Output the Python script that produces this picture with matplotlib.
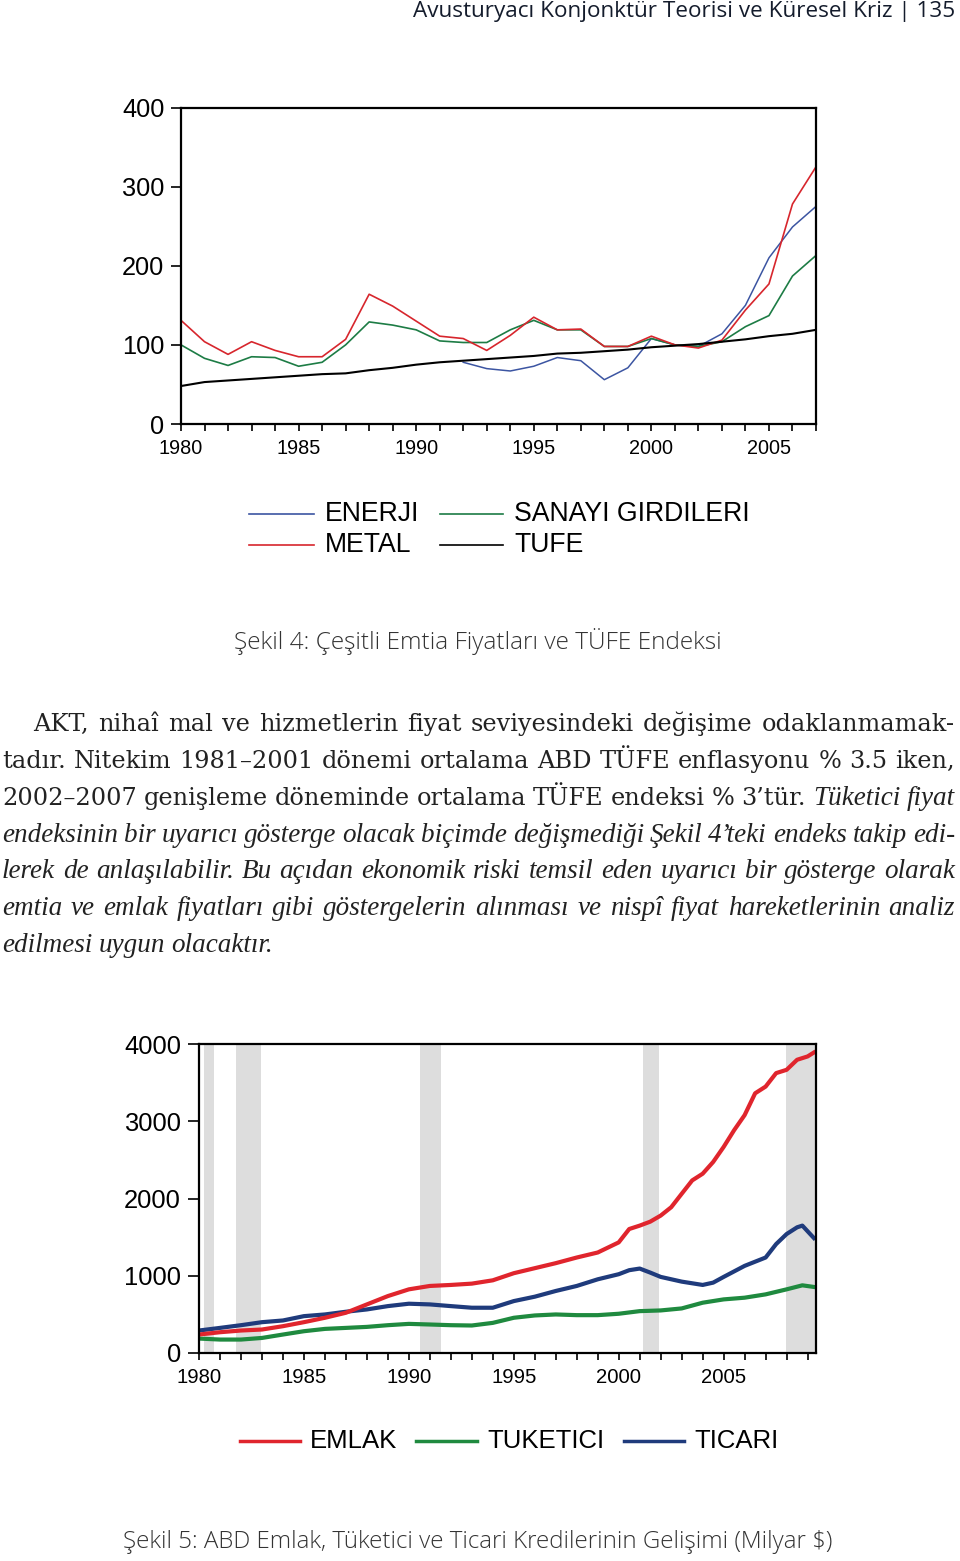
import matplotlib
matplotlib.use("Agg")
import matplotlib.pyplot as plt
from matplotlib.lines import Line2D

W, H = 960, 1561

# ---- Sekil 4: emtia fiyatlari ve TUFE (yillik) ----
years4 = list(range(1980, 2008))
metal = [131, 104, 88, 104, 93, 85, 85, 107, 164, 149, 130, 111, 108, 93,
         112, 135, 119, 120, 98, 98, 111, 100, 96, 106, 144, 177, 278, 325]
sanayi = [100, 83, 74, 85, 84, 73, 78, 100, 129, 125, 119, 105, 103, 103,
          119, 131, 119, 119, 98, 98, 108, 100, 98, 104, 123, 137, 187, 213]
enerji_years = list(range(1992, 2008))
enerji = [78, 70, 67, 73, 84, 80, 56, 71, 108, 100, 98, 114, 150, 210, 249, 275]
tufe = [48, 53, 55, 57, 59, 61, 63, 64, 68, 71, 75, 78, 80, 82,
        84, 86, 89, 90, 92, 94, 97, 99, 101, 104, 107, 111, 114, 119]

# ---- Sekil 5: kredi hacimleri (milyar $) ----
t_emlak = [1980, 1981, 1982, 1983, 1984, 1985, 1986, 1987, 1988, 1989, 1990,
           1991, 1992, 1993, 1994, 1995, 1996, 1997, 1998, 1999, 2000, 2000.5,
           2001, 2001.5, 2002, 2002.5, 2003, 2003.5, 2004, 2004.5, 2005,
           2005.5, 2006, 2006.5, 2007, 2007.5, 2008, 2008.5, 2009, 2009.3]
emlak = [239, 269, 291, 304, 347, 399, 456, 521, 629, 737, 824, 868, 881, 898,
         941, 1033, 1098, 1163, 1236, 1301, 1432, 1605, 1649, 1700, 1779, 1887,
         2061, 2234, 2321, 2473, 2668, 2885, 3080, 3362, 3449, 3623, 3666,
         3796, 3839, 3890]
t_ticari = [1980, 1981, 1982, 1983, 1984, 1985, 1986, 1987, 1988, 1989, 1990,
            1991, 1992, 1993, 1994, 1995, 1996, 1997, 1998, 1999, 2000, 2000.5,
            2001, 2001.5, 2002, 2003, 2004, 2004.5, 2005, 2006, 2007, 2007.5,
            2008, 2008.5, 2008.75, 2009.3]
ticari = [291, 325, 360, 399, 421, 477, 499, 534, 564, 607, 638, 629, 607, 586,
          586, 672, 729, 803, 868, 954, 1020, 1072, 1093, 1041, 985, 924, 881,
          911, 985, 1128, 1236, 1410, 1540, 1627, 1649, 1488]
t_tuketici = [1980, 1981, 1982, 1983, 1984, 1985, 1986, 1987, 1988, 1989,
              1990, 1991, 1992, 1993, 1994, 1995, 1996, 1997, 1998, 1999,
              2000, 2001, 2002, 2003, 2004, 2005, 2006, 2007, 2008, 2008.75,
              2009.3]
tuketici = [187, 174, 174, 195, 239, 282, 312, 325, 338, 360, 377, 369, 360,
            356, 390, 456, 486, 499, 490, 490, 508, 542, 551, 577, 651, 694,
            716, 759, 824, 876, 855]
# resesyon donemleri (gri bantlar)
recessions = [(1980.24, 1980.72), (1981.77, 1982.96), (1990.54, 1991.55),
              (2001.18, 2001.9), (2007.96, 2009.4)]

header = "Avusturyacı Konjonktür Teorisi ve Küresel Kriz | 135"
caption4 = "Şekil 4: Çeşitli Emtia Fiyatları ve TÜFE Endeksi"
caption5 = "Şekil 5: ABD Emlak, Tüketici ve Ticari Kredilerinin Gelişimi (Milyar $)"

# (metin, italik mi) parcalari, satir satir
body = [
    [("AKT, nihaî mal ve hizmetlerin fiyat seviyesindeki değişime odaklanmamak-", False)],
    [("tadır. Nitekim 1981–2001 dönemi ortalama ABD TÜFE enflasyonu % 3.5 iken,", False)],
    [("2002–2007 genişleme döneminde ortalama TÜFE endeksi % 3’tür.", False),
     ("Tüketici fiyat", True)],
    [("endeksinin bir uyarıcı gösterge olacak biçimde değişmediği Şekil 4’teki endeks takip edi-", True)],
    [("lerek de anlaşılabilir. Bu açıdan ekonomik riski temsil eden uyarıcı bir gösterge olarak", True)],
    [("emtia ve emlak fiyatları gibi göstergelerin alınması ve nispî fiyat hareketlerinin analiz", True)],
    [("edilmesi uygun olacaktır.", True)],
]


def fx(px):
    return px / W


def fy(py):
    return 1 - py / H


def style_axes(ax, xlab_size, ylab_size, ylen):
    for s in ax.spines.values():
        s.set_linewidth(1.6)
    ax.tick_params(which="both", direction="out", width=1.2, colors="black")
    ax.tick_params(axis="x", which="both", length=5, pad=6, labelsize=xlab_size)
    ax.tick_params(axis="y", length=ylen, pad=5, labelsize=ylab_size)
    for lab in ax.get_xticklabels() + ax.get_yticklabels():
        lab.set_fontfamily("Liberation Sans")


fig = plt.figure(figsize=(W / 100, H / 100), dpi=100)

fig.text(fx(955), fy(12), header, ha="right", va="center", fontsize=16.2,
         family="Open Sans", fontweight="medium", color="#141c2c")

# ---------- Chart 1 ----------
ax1 = fig.add_axes([fx(181), fy(424), fx(816) - fx(181), (424 - 107.5) / H])
ax1.plot(enerji_years, enerji, color="#3c55a2", lw=1.1)
ax1.plot(years4, sanayi, color="#1d7c45", lw=1.2)
ax1.plot(years4, metal, color="#d7262d", lw=1.2)
ax1.plot(years4, tufe, color="black", lw=1.5)
ax1.set_xlim(1980, 2007)
ax1.set_ylim(0, 400)
ax1.set_xticks(range(1980, 2008, 5))
ax1.set_xticks(range(1980, 2008), minor=True)
ax1.set_yticks([0, 100, 200, 300, 400])
style_axes(ax1, 14.3, 18.3, 7)

leg1 = [(249, 314, 514, "#3c55a2", "ENERJI"), (249, 314, 545, "#d7262d", "METAL"),
        (440, 503, 514, "#1d7c45", "SANAYI GIRDILERI"), (440, 503, 545, "black", "TUFE")]
for x0, x1, y, c, lab in leg1:
    fig.add_artist(Line2D([fx(x0), fx(x1)], [fy(y), fy(y)], color=c, lw=1.2))
    fig.text(fx(x1 + 11), fy(y), lab, ha="left", va="center", fontsize=19.2,
             family="Liberation Sans")

fig.text(fx(478), fy(641), caption4, ha="center", va="center", fontsize=17.6,
         family="Open Sans", fontweight="light", color="#333333")

# ---------- body text (iki yana yasli) ----------
renderer = fig.canvas.get_renderer()
line_y = [731, 768, 805, 842, 878, 915, 952]
for i, parts in enumerate(body):
    words = []
    for txt, ital in parts:
        for w in txt.split(" "):
            words.append((w, ital))
    objs = []
    for w, ital in words:
        if ital:
            t = fig.text(0, fy(line_y[i]), w, fontsize=19.5, family="Liberation Serif",
                         style="italic", va="baseline", color="#222222")
        else:
            t = fig.text(0, fy(line_y[i]), w, fontsize=17.3, family="DejaVu Serif",
                         va="baseline", color="#222222")
        objs.append(t)
    widths = [o.get_window_extent(renderer).width for o in objs]
    x_left = 33 if i == 0 else 2
    x_right = 955
    if i == len(body) - 1:
        gap = 6
    else:
        gap = (x_right - x_left - sum(widths)) / (len(objs) - 1)
    x = x_left
    for o, wd in zip(objs, widths):
        o.set_x(fx(x))
        x += wd + gap

# ---------- Chart 2 ----------
ax2 = fig.add_axes([fx(199), fy(1353), fx(816) - fx(199), (1353 - 1044) / H])
for a, b in recessions:
    ax2.axvspan(a, b, color="#dddddd", lw=0, zorder=0)
ax2.plot(t_tuketici, tuketici, color="#1f8a3f", lw=3)
ax2.plot(t_ticari, ticari, color="#1f3b7c", lw=3)
ax2.plot(t_emlak, emlak, color="#e0252d", lw=3)
ax2.set_xlim(1980, 2009.4)
ax2.set_ylim(0, 4000)
ax2.set_xticks(range(1980, 2010, 5))
ax2.set_xticks(range(1980, 2010), minor=True)
ax2.set_yticks([0, 1000, 2000, 3000, 4000])
style_axes(ax2, 14.6, 18.4, 8)

leg2 = [(240, 300, "#e0252d", "EMLAK"), (416, 477, "#1f8a3f", "TUKETICI"),
        (624, 684, "#1f3b7c", "TICARI")]
for x0, x1, c, lab in leg2:
    fig.add_artist(Line2D([fx(x0), fx(x1)], [fy(1441), fy(1441)], color=c, lw=2.5))
    fig.text(fx(x1 + 10), fy(1441), lab, ha="left", va="center", fontsize=18.5,
             family="Liberation Sans")

fig.text(fx(478), fy(1542), caption5, ha="center", va="center", fontsize=17.4,
         family="Open Sans", fontweight="light", color="#333333")

fig.savefig("out.png", dpi=100)
